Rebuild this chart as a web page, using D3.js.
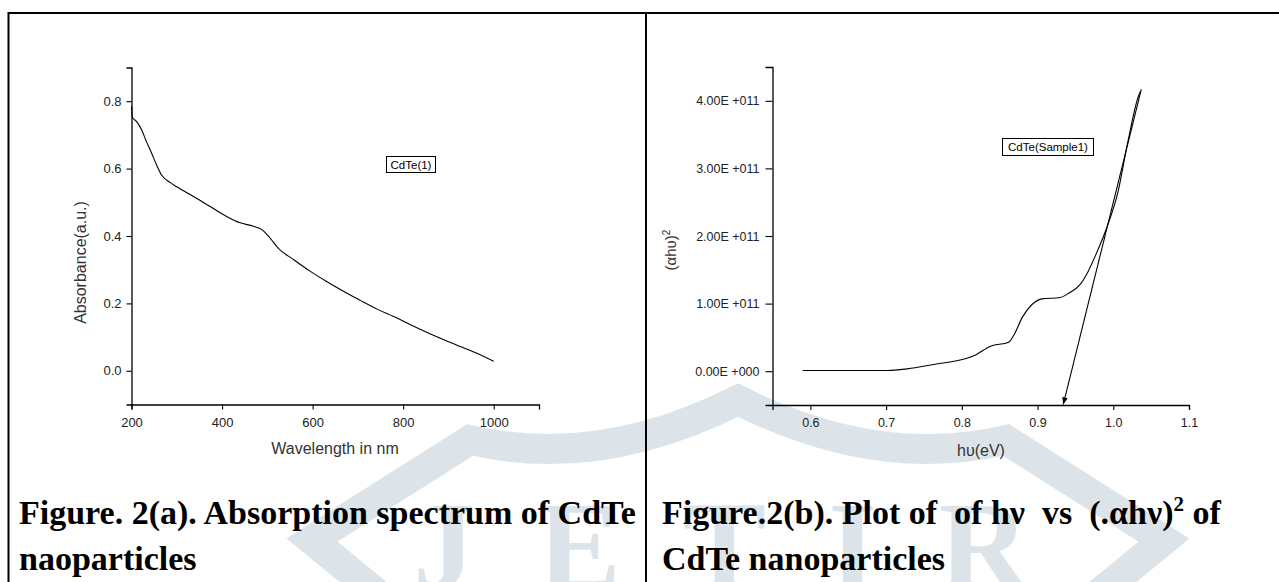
<!DOCTYPE html>
<html>
<head>
<meta charset="utf-8">
<title>CdTe absorption</title>
<script src="https://cdn.jsdelivr.net/npm/d3@7"></script>
<style>
  body { margin: 0; background: #fff; }
  svg { display: block; }
  .tick text { font-family: "Liberation Sans", Arial, sans-serif; fill: #222; }
  .caption { font-family: "Liberation Serif", "Times New Roman", serif; font-weight: bold; fill: #000; }
</style>
</head>
<body>
<div id="main-container"></div>
<script>
// figure 2(a): absorption spectrum
var wavelength = [200, 202, 211, 222, 233, 244, 255, 266, 285, 300, 336, 373, 410, 440, 469, 488, 506, 524, 558, 595, 631, 668, 705, 742, 779, 816, 853, 890, 926, 963, 1000];
var absorbance = [0.785, 0.752, 0.740, 0.716, 0.680, 0.647, 0.612, 0.582, 0.559, 0.546, 0.518, 0.488, 0.458, 0.439, 0.429, 0.419, 0.394, 0.364, 0.330, 0.295, 0.265, 0.236, 0.209, 0.183, 0.161, 0.137, 0.114, 0.092, 0.072, 0.052, 0.028];
var absXTicks = [200, 400, 600, 800, 1000];
var absXMinor = [300, 500, 700, 900, 1100];
var absYTicks = [0.0, 0.2, 0.4, 0.6, 0.8];
var absYMinor = [-0.1, 0.1, 0.3, 0.5, 0.7, 0.9];

// figure 2(b): (alpha h nu)^2 vs h nu
var energy = [0.590, 0.702, 0.728, 0.763, 0.803, 0.816, 0.838, 0.862, 0.869, 0.880, 0.893, 0.906, 0.930, 0.942, 0.956, 0.967, 0.978, 0.992, 1.006, 1.019, 1.035, 1.036];
var ahv2 = [0.01e11, 0.01e11, 0.035e11, 0.10e11, 0.18e11, 0.23e11, 0.37e11, 0.43e11, 0.54e11, 0.80e11, 0.99e11, 1.07e11, 1.09e11, 1.16e11, 1.28e11, 1.48e11, 1.75e11, 2.14e11, 2.64e11, 3.38e11, 4.12e11, 4.14e11];
var fitEnergy = [1.037, 0.934];
var fitValue = [4.17e11, -0.49e11];
var egXTicks = [0.6, 0.7, 0.8, 0.9, 1.0, 1.1];
var egXMinor = [0.55, 0.65, 0.75, 0.85, 0.95, 1.05];
var egYTicks = [0, 1e11, 2e11, 3e11, 4e11];
var egYMinor = [-0.5e11, 0.5e11, 1.5e11, 2.5e11, 3.5e11, 4.5e11];

var W = 1279, H = 582;
var svg = d3.select('#main-container').append('svg')
  .attr('width', W).attr('height', H);

// watermark (light shield + letters) behind everything
var wm = svg.append('g').attr('fill', 'none').attr('stroke', '#dde4e9');
wm.append('path')
  .attr('stroke-width', 30)
  .attr('stroke-linejoin', 'miter')
  .attr('d', 'M 385,600 L 312,540 L 470,440 Q 600,470 738,400 Q 876,470 1006,440 L 1164,540 L 1091,600');
svg.append('text')
  .attr('x', 752).attr('y', 588)
  .attr('text-anchor', 'middle')
  .attr('font-family', '"Liberation Serif", serif')
  .attr('font-weight', 'bold')
  .attr('font-size', 125)
  .attr('letter-spacing', 62)
  .attr('fill', '#dde4e9')
  .text('JETIR');

// table frame
svg.append('line').attr('x1', 8).attr('x2', W).attr('y1', 13).attr('y2', 13).attr('stroke', '#000').attr('stroke-width', 2);
svg.append('line').attr('x1', 8.5).attr('x2', 8.5).attr('y1', 12).attr('y2', H).attr('stroke', '#000').attr('stroke-width', 2);
svg.append('line').attr('x1', 646).attr('x2', 646).attr('y1', 12).attr('y2', H).attr('stroke', '#000').attr('stroke-width', 2);

function drawAxes(g, x, y, opt) {
  var xa = g.append('g').attr('transform', 'translate(0,' + y.range()[0] + ')');
  xa.call(d3.axisBottom(x).tickValues(opt.xMinor).tickSize(3).tickFormat(''));
  xa.call(d3.axisBottom(x).tickValues(opt.xTicks).tickSize(5).tickPadding(8).tickFormat(opt.xFmt));
  var ya = g.append('g').attr('transform', 'translate(' + x.range()[0] + ',0)');
  ya.call(d3.axisLeft(y).tickValues(opt.yMinor).tickSize(opt.yMinorLen).tickFormat(''));
  ya.call(d3.axisLeft(y).tickValues(opt.yTicks).tickSize(opt.yMajorLen).tickPadding(opt.yPad).tickFormat(opt.yFmt));
  g.selectAll('.domain').attr('stroke', '#000').attr('stroke-width', 1.3);
  g.selectAll('.tick line').attr('stroke', '#000').attr('stroke-width', 1.1);
  g.selectAll('.tick text').attr('font-size', opt.fs).attr('fill', '#222');
}

// ---- left chart
var g1 = svg.append('g');
var x1 = d3.scaleLinear().domain([200, 1100]).range([131.5, 539]);
var y1 = d3.scaleLinear().domain([-0.1, 0.9]).range([404.5, 67.5]);
drawAxes(g1, x1, y1, {
  xTicks: absXTicks, xMinor: absXMinor, yTicks: absYTicks, yMinor: absYMinor,
  xFmt: d3.format('d'), yFmt: d3.format('.1f'),
  yMajorLen: 5, yMinorLen: 3, yPad: 5, fs: 13
});
var line1 = d3.line()
  .x(function(d, i) { return x1(wavelength[i]); })
  .y(function(d) { return y1(d); })
  .curve(d3.curveMonotoneX);
g1.append('path').datum(absorbance)
  .attr('d', line1).attr('fill', 'none').attr('stroke', '#000').attr('stroke-width', 1.1);

g1.append('text').attr('x', 335).attr('y', 454)
  .attr('text-anchor', 'middle').attr('font-family', '"Liberation Sans", Arial, sans-serif')
  .attr('font-size', 16).attr('fill', '#333').text('Wavelength in nm');
g1.append('text').attr('transform', 'translate(85.5,262.5) rotate(-90)')
  .attr('text-anchor', 'middle').attr('font-family', '"Liberation Sans", Arial, sans-serif')
  .attr('font-size', 16).attr('fill', '#333').text('Absorbance(a.u.)');

g1.append('rect').attr('x', 386.5).attr('y', 156.5).attr('width', 49).attr('height', 16)
  .attr('fill', '#fff').attr('stroke', '#000').attr('stroke-width', 1);
g1.append('text').attr('x', 411).attr('y', 168.5).attr('text-anchor', 'middle')
  .attr('font-family', '"Liberation Sans", Arial, sans-serif').attr('font-size', 11.5)
  .text('CdTe(1)');

// ---- right chart
var g2 = svg.append('g');
var x2 = d3.scaleLinear().domain([0.55, 1.1]).range([772.5, 1189]);
var y2 = d3.scaleLinear().domain([-0.5e11, 4.5e11]).range([405, 67]);
drawAxes(g2, x2, y2, {
  xTicks: egXTicks, xMinor: egXMinor, yTicks: egYTicks, yMinor: egYMinor,
  xFmt: d3.format('.1f'),
  yFmt: function(v) { return v === 0 ? '0.00E +000' : (v / 1e11).toFixed(2) + 'E +011'; },
  yMajorLen: 7, yMinorLen: 4, yPad: 6, fs: 12.5
});
var line2 = d3.line()
  .x(function(d, i) { return x2(energy[i]); })
  .y(function(d) { return y2(d); })
  .curve(d3.curveMonotoneX);
g2.append('path').datum(ahv2)
  .attr('d', line2).attr('fill', 'none').attr('stroke', '#000').attr('stroke-width', 1.1);

svg.append('defs').append('marker')
  .attr('id', 'arrow').attr('viewBox', '0 0 10 10').attr('refX', 10).attr('refY', 5)
  .attr('markerWidth', 7).attr('markerHeight', 7).attr('markerUnits', 'userSpaceOnUse')
  .attr('orient', 'auto')
  .append('path').attr('d', 'M0,1 L10,5 L0,9 z').attr('fill', '#000');
g2.append('line')
  .attr('x1', x2(fitEnergy[0])).attr('y1', y2(fitValue[0]))
  .attr('x2', x2(fitEnergy[1])).attr('y2', y2(fitValue[1]))
  .attr('stroke', '#000').attr('stroke-width', 1.1).attr('marker-end', 'url(#arrow)');

g2.append('text').attr('x', 981).attr('y', 456)
  .attr('text-anchor', 'middle').attr('font-family', '"Liberation Sans", Arial, sans-serif')
  .attr('font-size', 16).attr('fill', '#333').text('hυ(eV)');
var yl = g2.append('text').attr('transform', 'translate(676,250) rotate(-90)')
  .attr('text-anchor', 'middle').attr('font-family', '"Liberation Sans", Arial, sans-serif')
  .attr('font-size', 15).attr('fill', '#333');
yl.append('tspan').text('(αhυ)');
yl.append('tspan').attr('font-size', 10).attr('dy', -6).text('2');

g2.append('rect').attr('x', 1002.5).attr('y', 138.5).attr('width', 91).attr('height', 17)
  .attr('fill', '#fff').attr('stroke', '#000').attr('stroke-width', 1);
g2.append('text').attr('x', 1048).attr('y', 151).attr('text-anchor', 'middle')
  .attr('font-family', '"Liberation Sans", Arial, sans-serif').attr('font-size', 11.5)
  .text('CdTe(Sample1)');

// ---- captions
svg.append('text').attr('class', 'caption').attr('x', 19).attr('y', 524).attr('font-size', 34)
  .text('Figure. 2(a). Absorption spectrum of CdTe');
svg.append('text').attr('class', 'caption').attr('x', 19).attr('y', 570).attr('font-size', 34)
  .text('naoparticles');
var cap = svg.append('text').attr('class', 'caption').attr('x', 662).attr('y', 524)
  .attr('font-size', 34).attr('xml:space', 'preserve').style('white-space', 'pre');
cap.append('tspan').text('Figure.2(b). Plot of  of hν  vs  (.αhν)');
cap.append('tspan').attr('font-size', 21).attr('dy', -13).text('2');
cap.append('tspan').attr('dy', 13).text(' of');
svg.append('text').attr('class', 'caption').attr('x', 662).attr('y', 570).attr('font-size', 34)
  .text('CdTe nanoparticles');
</script>
</body>
</html>
